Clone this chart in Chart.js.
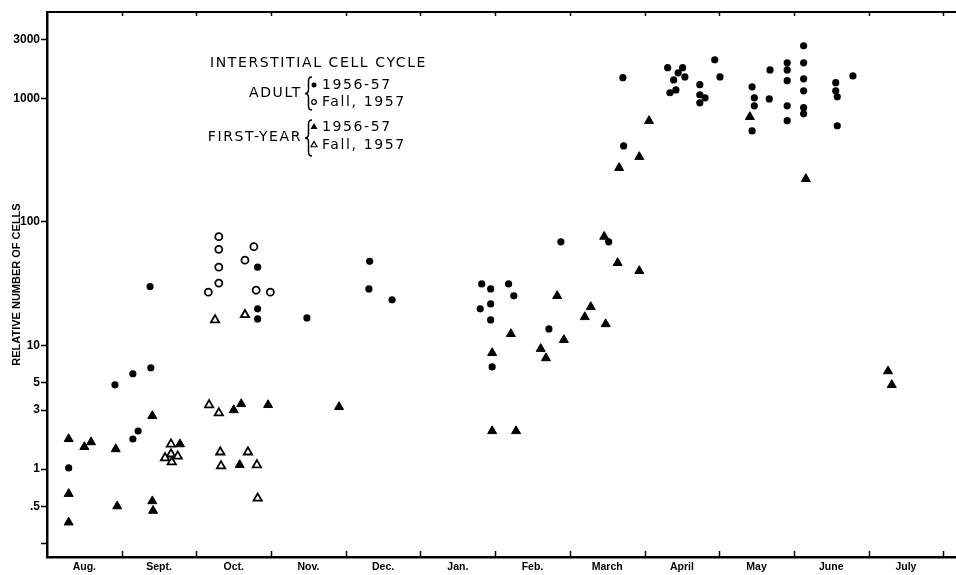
<!DOCTYPE html>
<html>
<head>
<meta charset="utf-8">
<script src="https://cdn.jsdelivr.net/npm/chart.js@4"></script>
<style>
  html, body { margin: 0; padding: 0; background: #fff; }
  #c { display: block; }
</style>
</head>
<body>
<canvas id="c" width="956" height="575"></canvas>
<script>
// ---- categories / tick labels ----
const monthLabels = ['Aug.', 'Sept.', 'Oct.', 'Nov.', 'Dec.', 'Jan.', 'Feb.', 'March', 'April', 'May', 'June', 'July'];
const monthCenters = [0.5, 1.5, 2.5, 3.5, 4.5, 5.5, 6.5, 7.5, 8.5, 9.5, 10.5, 11.5];
const monthBoundaries = [1, 2, 3, 4, 5, 6, 7, 8, 9, 10, 11, 12];
const yTickValues = [0.25, 0.5, 1, 3, 5, 10, 100, 1000, 3000];
const yTickLabels = ['', '.5', '1', '3', '5', '10', '100', '1000', '3000'];

// ---- series: x = months since Aug. 1, y = relative number of cells ----
// Adult, 1956-57 (filled circles)
const adult5657X = [0.29, 0.91, 1.15, 1.39, 1.38, 1.15, 1.22, 2.82, 2.82, 2.82, 3.48, 4.32, 4.31, 4.62,
  5.82, 5.94, 6.18, 6.25, 5.94, 5.80, 5.94, 6.72, 5.96, 6.88, 7.52, 7.72, 7.71,
  8.31, 8.45, 8.51, 8.54, 8.39, 8.42, 8.34, 8.74, 8.74, 8.81, 8.74, 8.94, 9.01,
  9.44, 9.47, 9.47, 9.44, 9.68, 9.67, 9.91, 9.91, 9.91, 9.91, 9.91,
  10.13, 10.13, 10.13, 10.13, 10.13, 10.13, 10.56, 10.56, 10.58, 10.58, 10.79];
const adult5657Y = [1.02, 4.8, 5.9, 6.6, 30, 1.75, 2.03, 43, 19.8, 16.4, 16.7, 48, 28.7, 23.4,
  31.5, 28.7, 31.5, 25.2, 21.7, 19.8, 16.1, 13.6, 6.7, 69, 69, 412, 1470,
  1770, 1610, 1770, 1490, 1410, 1170, 1110, 1290, 1070, 1010, 920, 2050, 1490,
  1240, 1010, 870, 545, 1700, 990, 1940, 1700, 1390, 870, 660,
  2660, 1940, 1440, 1150, 840, 750, 1340, 1150, 1030, 600, 1520];

// Adult, Fall 1957 (open circles)
const adultFallX = [2.30, 2.30, 2.77, 2.65, 2.30, 2.30, 2.16, 2.80, 2.99];
const adultFallY = [76, 60, 63, 49, 43, 32, 27, 28, 27];

// First-year, 1956-57 (filled triangles)
const first5657X = [0.29, 0.50, 0.59, 0.29, 0.29, 0.92, 0.94, 1.41, 1.41, 1.42, 1.78,
  2.50, 2.60, 2.58, 2.96, 3.91,
  5.96, 5.96, 6.28, 6.21, 6.61, 6.68, 6.83, 6.92, 7.20, 7.28, 7.48, 7.46, 7.64, 7.93,
  7.66, 7.93, 8.06, 9.41, 10.16, 11.26, 11.31];
const first5657Y = [1.75, 1.51, 1.65, 0.63, 0.37, 1.45, 0.50, 2.69, 0.55, 0.46, 1.59,
  3.0, 3.36, 1.08, 3.3, 3.18,
  8.7, 2.03, 2.03, 12.4, 9.4, 7.9, 25.2, 11.1, 17.0, 20.5, 14.9, 76, 46.6, 40.1,
  274, 336, 657, 708, 223, 6.2, 4.8];

// First-year, Fall 1957 (open triangles)
const firstFallX = [1.66, 1.66, 1.58, 1.67, 1.75, 2.17, 2.30, 2.32, 2.33, 2.69, 2.81, 2.82, 2.25, 2.65];
const firstFallY = [1.59, 1.32, 1.23, 1.14, 1.27, 3.3, 2.84, 1.37, 1.06, 1.37, 1.08, 0.58, 16.1, 17.7];

const xMin = 0, xMax = 12.17;
const yMin = 0.194, yMax = 5000;

function pts(xs, ys) { return xs.map((x, i) => ({ x: x, y: ys[i] })); }

const FONT = '"Liberation Sans", Arial, sans-serif';

// inward month ticks + top frame line
const framePlugin = {
  id: 'frame',
  afterDraw(chart) {
    const ctx = chart.ctx;
    const xs = chart.scales.x;
    const a = chart.chartArea;
    ctx.save();
    ctx.strokeStyle = '#000';
    ctx.lineWidth = 2;
    ctx.beginPath();
    ctx.moveTo(a.left - 1, a.top);
    ctx.lineTo(a.right, a.top);
    ctx.stroke();
    ctx.lineWidth = 1.5;
    monthBoundaries.forEach(m => {
      const px = Math.round(xs.getPixelForValue(m)) + 0.5;
      ctx.beginPath();
      ctx.moveTo(px, a.bottom);
      ctx.lineTo(px, a.bottom - 6);
      ctx.moveTo(px, a.top);
      ctx.lineTo(px, a.top + 4);
      ctx.stroke();
    });
    ctx.restore();
  }
};

function brace(ctx, x, top, bottom) {
  const mid = (top + bottom) / 2;
  const w = 7;
  ctx.beginPath();
  ctx.moveTo(x + w, top);
  ctx.quadraticCurveTo(x + w / 2, top, x + w / 2, top + 4);
  ctx.lineTo(x + w / 2, mid - 4);
  ctx.quadraticCurveTo(x + w / 2, mid, x, mid);
  ctx.quadraticCurveTo(x + w / 2, mid, x + w / 2, mid + 4);
  ctx.lineTo(x + w / 2, bottom - 4);
  ctx.quadraticCurveTo(x + w / 2, bottom, x + w, bottom);
  ctx.stroke();
}

function tri(ctx, x, y, r, fill) {
  ctx.beginPath();
  ctx.moveTo(x, y - r);
  ctx.lineTo(x + r * 0.866, y + r * 0.5);
  ctx.lineTo(x - r * 0.866, y + r * 0.5);
  ctx.closePath();
  if (fill) ctx.fill(); else ctx.stroke();
}

const legendPlugin = {
  id: 'legendText',
  afterDraw(chart) {
    const ctx = chart.ctx;
    ctx.save();
    ctx.fillStyle = '#000';
    ctx.strokeStyle = '#000';
    ctx.font = '14px "DejaVu Sans", sans-serif';
    try { ctx.letterSpacing = '1.6px'; } catch (e) {}
    ctx.textBaseline = 'middle';
    ctx.textAlign = 'left';
    ctx.fillText('INTERSTITIAL CELL CYCLE', 210, 63);
    ctx.fillText('1956-57', 322, 85);
    ctx.fillText('Fall, 1957', 322, 102);
    ctx.fillText('1956-57', 322, 127);
    ctx.fillText('Fall, 1957', 322, 145);
    ctx.textAlign = 'right';
    ctx.fillText('ADULT', 302, 93);
    ctx.fillText('FIRST-YEAR', 302, 137);
    ctx.lineWidth = 1.5;
    brace(ctx, 305, 77, 110);
    brace(ctx, 305, 120, 156);
    // markers
    ctx.beginPath(); ctx.arc(314, 85, 2.5, 0, Math.PI * 2); ctx.fill();
    ctx.lineWidth = 1.2;
    ctx.beginPath(); ctx.arc(314, 102, 2.3, 0, Math.PI * 2); ctx.stroke();
    tri(ctx, 314, 127, 4, true);
    tri(ctx, 314, 145, 3.5, false);
    ctx.restore();
  }
};

new Chart(document.getElementById('c'), {
  type: 'scatter',
  data: {
    datasets: [
      { label: 'Adult 1956-57', data: pts(adult5657X, adult5657Y), pointStyle: 'circle',
        pointRadius: 3.6, backgroundColor: '#000', borderColor: '#000', borderWidth: 0 },
      { label: 'Adult Fall 1957', data: pts(adultFallX, adultFallY), pointStyle: 'circle',
        pointRadius: 3.5, backgroundColor: '#fff', borderColor: '#000', borderWidth: 1.8 },
      { label: 'First-year 1956-57', data: pts(first5657X, first5657Y), pointStyle: 'triangle',
        pointRadius: 5.2, backgroundColor: '#000', borderColor: '#000', borderWidth: 1 },
      { label: 'First-year Fall 1957', data: pts(firstFallX, firstFallY), pointStyle: 'triangle',
        pointRadius: 4.8, backgroundColor: '#fff', borderColor: '#000', borderWidth: 1.8 }
    ]
  },
  options: {
    responsive: false,
    animation: false,
    devicePixelRatio: 1,
    layout: { autoPadding: false, padding: { top: 12, right: 0, left: 0, bottom: 0 } },
    plugins: { legend: { display: false }, tooltip: { enabled: false } },
    scales: {
      x: {
        type: 'linear', position: 'bottom', min: xMin, max: xMax,
        afterBuildTicks: s => { s.ticks = monthCenters.map(v => ({ value: v })); },
        afterFit: s => { s.height = 18; s.paddingRight = 0; s.paddingLeft = 0; },
        grid: { display: true, drawOnChartArea: false, drawTicks: false },
        border: { display: true, color: '#000', width: 2.5 },
        ticks: {
          autoSkip: false, maxRotation: 0, padding: 4, color: '#000',
          font: { family: FONT, size: 10.5, weight: 'bold' },
          callback: (v, i) => monthLabels[i]
        }
      },
      y: {
        type: 'logarithmic', min: yMin, max: yMax,
        afterBuildTicks: s => { s.ticks = yTickValues.map(v => ({ value: v })); },
        afterFit: s => { s.width = 47; s.paddingTop = 0; s.paddingBottom = 0; },
        grid: { display: true, drawOnChartArea: false, drawTicks: true, tickLength: 6,
                tickColor: '#000', tickWidth: 1.5, color: '#000' },
        border: { display: true, color: '#000', width: 2.5 },
        title: {
          display: true, text: 'RELATIVE NUMBER OF CELLS', color: '#000',
          font: { family: FONT, size: 11, weight: 'bold' }, padding: { top: 10, bottom: 0 }
        },
        ticks: {
          autoSkip: false, padding: 1, color: '#000',
          font: { family: FONT, size: 12, weight: 'bold' },
          callback: (v, i) => yTickLabels[i]
        }
      }
    }
  },
  plugins: [framePlugin, legendPlugin]
});
</script>
</body>
</html>
